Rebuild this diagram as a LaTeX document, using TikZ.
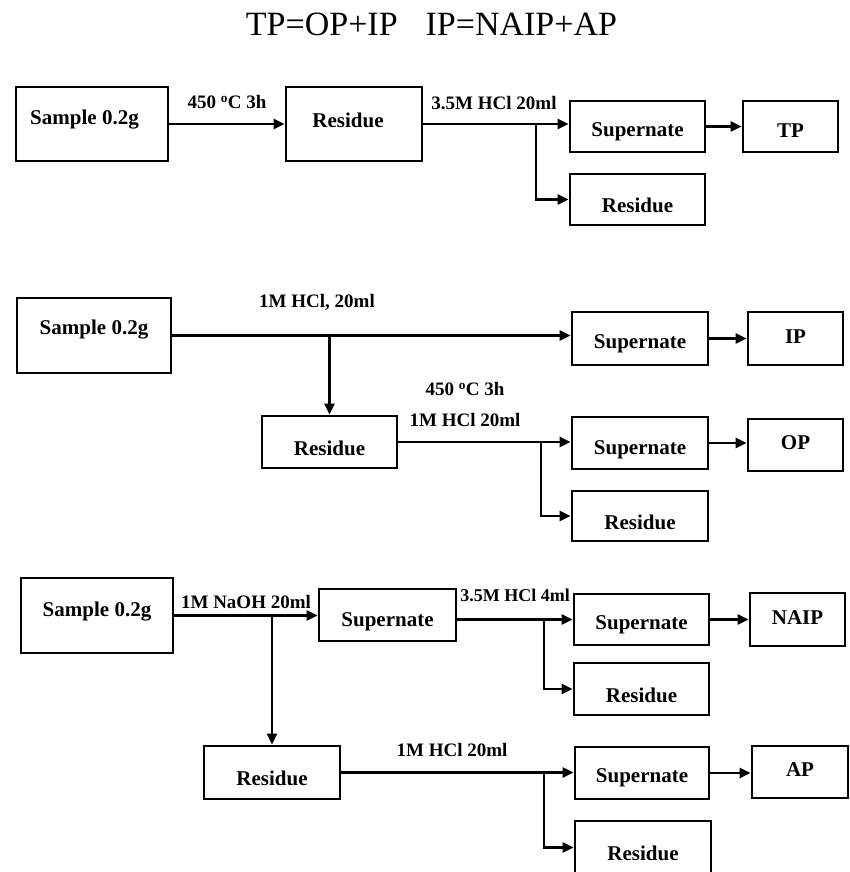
\documentclass[tikz,border=0pt]{standalone}
\usepackage{fontspec}
\setmainfont{Liberation Serif}
\usetikzlibrary{arrows.meta}
\tikzset{
  box/.style={draw, line width=2.8pt, inner sep=0pt},
  txt/.style={font=\bfseries\fontsize{21}{24}\selectfont, inner sep=0pt},
  lbl/.style={font=\bfseries\fontsize{19}{22}\selectfont, inner sep=0pt},
  arr/.style={line width=2.4pt, -{Triangle[length=11pt,width=10pt]}},
}
\begin{document}
\begin{tikzpicture}[x=1pt,y=-1pt]
\clip (0,0) rectangle (849,872);
\fill[white] (0,0) rectangle (849,872);

\node[font=\fontsize{34}{38}\selectfont, inner sep=0pt] (title) at (431.5,24.5) {TP=OP+IP\hspace{28pt}IP=NAIP+AP};

% ---------- Section 1 ----------
\node[box, minimum width=152pt, minimum height=74pt, label={[txt, xshift=-7.5pt, yshift=4pt]center:Sample 0.2g}] (s1) at (92,124) {};
\node[box, minimum width=136pt, minimum height=74pt, label={[txt, xshift=-6pt, yshift=4pt]center:Residue}] (r1) at (354,124) {};
\node[box, minimum width=135pt, minimum height=51pt, label={[txt, yshift=-5.5pt]center:Supernate}] (sup1) at (637.5,126.5) {};
\node[box, minimum width=95pt, minimum height=51pt, label={[txt, yshift=-4.5pt]center:TP}] (tp) at (790.5,126.5) {};
\node[box, minimum width=135pt, minimum height=51pt, label={[txt, yshift=-5.5pt]center:Residue}] (res1) at (637.5,199.5) {};

\node[lbl] (l1) at (227,102) {450 \textsuperscript{o}C 3h};
\node[lbl] (l2) at (494,103) {3.5M HCl 20ml};

\draw[arr] (s1) -- (r1);
\draw[arr] (r1.east) -- (r1.east -| sup1.west);
\coordinate (b1) at (536,124);
\draw[arr] (b1) |- (res1.west);
\draw[arr] (sup1) -- (tp);

% ---------- Section 2 ----------
\node[box, minimum width=154pt, minimum height=75pt, label={[txt, yshift=5.5pt]center:Sample 0.2g}] (s2) at (94,335.5) {};
\node[box, minimum width=135pt, minimum height=52pt, label={[txt, yshift=-6pt]center:Residue}] (r2) at (329.5,442) {};
\node[box, minimum width=136pt, minimum height=53pt, label={[txt, yshift=-5.5pt]center:Supernate}] (sup2) at (640,338.5) {};
\node[box, minimum width=95pt, minimum height=53pt, label={[txt, yshift=1.5pt]center:IP}] (ip) at (795.5,338.5) {};
\node[box, minimum width=136pt, minimum height=52pt, label={[txt, yshift=-7pt]center:Supernate}] (sup3) at (640,443) {};
\node[box, minimum width=95pt, minimum height=52pt, label={[txt, yshift=2pt]center:OP}] (op) at (795.5,445) {};
\node[box, minimum width=136pt, minimum height=50pt, label={[txt, yshift=-6pt]center:Residue}] (res2) at (640,516) {};

\node[lbl] (l3) at (317,302) {1M HCl, 20ml};
\node[lbl] (l4) at (465,389) {450 \textsuperscript{o}C 3h};
\node[lbl] (l5) at (465,420) {1M HCl 20ml};

\draw[arr] (s2.east) -- (s2.east -| sup2.west);
\coordinate (b2) at (329.5,335.5);
\draw[arr] (b2) -- (b2 |- r2.north);
\draw[arr] (r2.east) -- (r2.east -| sup3.west);
\coordinate (b3) at (541,442);
\draw[arr] (b3) |- (res2.west);
\draw[arr] (sup2) -- (ip);
\draw[arr] (sup3.east) -- (sup3.east -| op.west);

% ---------- Section 3 ----------
\node[box, minimum width=152pt, minimum height=75pt, label={[txt, yshift=3.5pt]center:Sample 0.2g}] (s3) at (97,615.5) {};
\node[box, minimum width=137pt, minimum height=52pt, label={[txt, yshift=-7pt]center:Supernate}] (sup4) at (387.5,615) {};
\node[box, minimum width=136pt, minimum height=53pt, label={[txt, yshift=-5.5pt]center:Residue}] (r3) at (272,772.5) {};
\node[box, minimum width=135pt, minimum height=51pt, label={[txt, yshift=-5.5pt]center:Supernate}] (sup5) at (641.5,619.5) {};
\node[box, minimum width=95pt, minimum height=53pt, label={[txt, yshift=1.5pt]center:NAIP}] (naip) at (797.5,619.5) {};
\node[box, minimum width=135pt, minimum height=52pt, label={[txt, yshift=-6pt]center:Residue}] (res3) at (641.5,689) {};
\node[box, minimum width=134pt, minimum height=52pt, label={[txt, yshift=-5pt]center:Supernate}] (sup6) at (642,773) {};
\node[box, minimum width=96pt, minimum height=52pt, label={[txt, yshift=2pt]center:AP}] (ap) at (800,772) {};
\node[box, minimum width=136pt, minimum height=53pt, label={[txt, yshift=-5.5pt]center:Residue}] (res4) at (643,847.5) {};

\node[lbl] (l6) at (246,602) {1M NaOH 20ml};
\node[lbl, font=\bfseries\fontsize{18}{20}\selectfont] (l7) at (515,595) {3.5M HCl 4ml};
\node[lbl] (l8) at (452,750) {1M HCl 20ml};

\draw[arr] (s3.east) -- (s3.east -| sup4.west);
\coordinate (b4) at (272,615.5);
\draw[arr] (b4) -- (b4 |- r3.north);
\draw[arr] (sup4.east |- sup5.west) -- (sup5.west);
\coordinate (b5) at (544,619.5);
\draw[arr] (b5) |- (res3.west);
\draw[arr] (sup5) -- (naip);
\draw[arr] (r3.east) -- (r3.east -| sup6.west);
\coordinate (b6) at (544,772.5);
\draw[arr] (b6) |- (res4.west);
\draw[arr] (sup6.east) -- (sup6.east -| ap.west);
\end{tikzpicture}
\end{document}
